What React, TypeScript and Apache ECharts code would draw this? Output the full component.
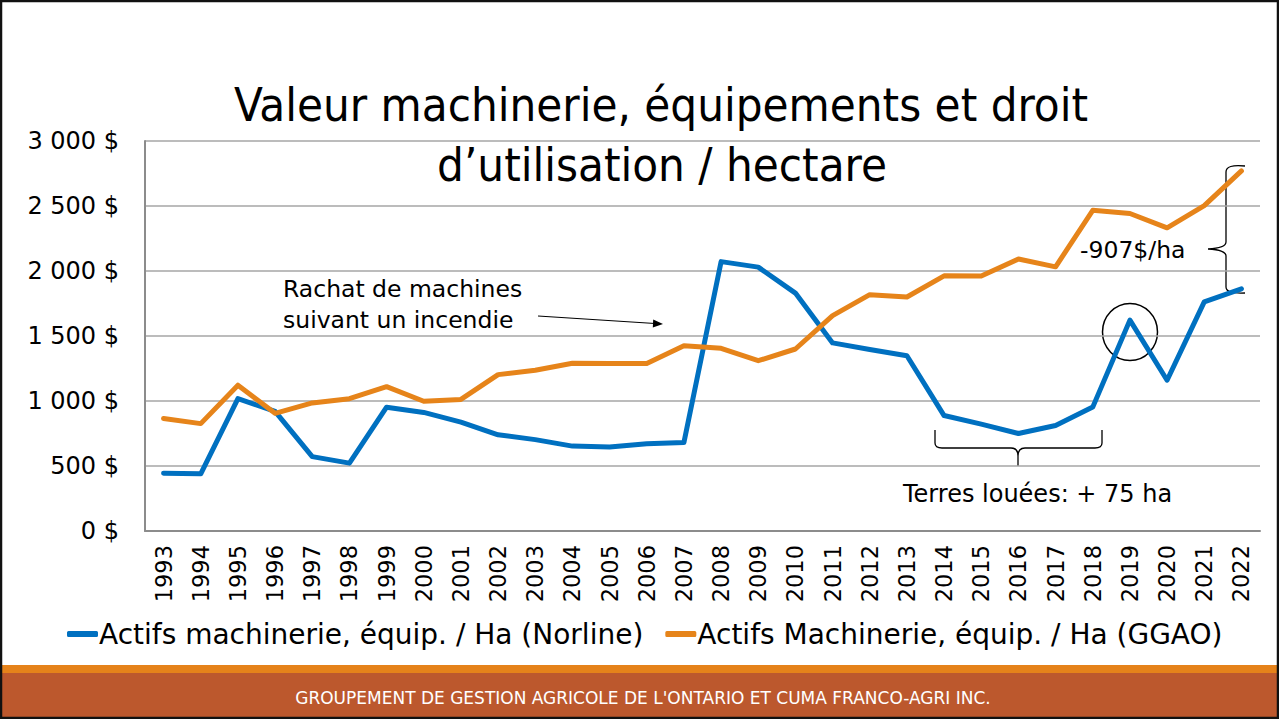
import React, { useEffect, useRef } from "react";
import * as echarts from "echarts";

const years = [
  "1993", "1994", "1995", "1996", "1997", "1998", "1999", "2000", "2001", "2002",
  "2003", "2004", "2005", "2006", "2007", "2008", "2009", "2010", "2011", "2012",
  "2013", "2014", "2015", "2016", "2017", "2018", "2019", "2020", "2021", "2022",
];

const norline = [
  445, 440, 1018, 920, 572, 522, 952, 912, 838, 740,
  703, 653, 646, 672, 680, 2072, 2030, 1830, 1447, 1396,
  1348, 888, 822, 750, 812, 953, 1622, 1160, 1762, 1863,
];

const ggao = [
  866, 826, 1122, 905, 985, 1018, 1110, 998, 1012, 1203,
  1236, 1290, 1289, 1288, 1425, 1405, 1310, 1400, 1657, 1818,
  1800, 1963, 1962, 2092, 2032, 2467, 2442, 2332, 2503, 2770,
];

const seriesNames = [
  "Actifs machinerie, équip. / Ha (Norline)",
  "Actifs Machinerie, équip. / Ha (GGAO)",
];

const titleLines = ["Valeur machinerie, équipements et droit", "d’utilisation / hectare"];
const footerText = "GROUPEMENT DE GESTION AGRICOLE DE L'ONTARIO ET CUMA FRANCO-AGRI INC.";
const noteFire = "Rachat de machines\nsuivant un incendie";
const noteGap = "-907$/ha";
const noteLand = "Terres louées: + 75 ha";

const FONT_C = '"DejaVu Sans Condensed", "DejaVu Sans", sans-serif';
const FONT = '"DejaVu Sans", sans-serif';
const BLUE = "#0070C0";
const ORANGE = "#E6841A";

function fmt(v: number) {
  if (v === 0) return "0 $";
  if (v >= 1000) return `${Math.floor(v / 1000)} ${String(v % 1000).padStart(3, "0")} $`;
  return `${v} $`;
}

echarts.graphic.registerShape(
  "braceV",
  echarts.graphic.extendPath(
    "M 1245 166 Q 1226 164 1226 172 L 1226 242 Q 1226 248 1208 249 Q 1226 250 1226 256 L 1226 287 Q 1226 294 1245 293",
    {}
  )
);
echarts.graphic.registerShape(
  "braceH",
  echarts.graphic.extendPath(
    "M 935 430 L 935 443 Q 935 448 942 448 L 1011 448 Q 1018 448 1018 456 L 1018 466 M 1018 456 Q 1018 448 1025 448 L 1095 448 Q 1102 448 1102 443 L 1102 430",
    {}
  )
);

export default function App() {
  const ref = useRef<HTMLDivElement>(null);
  useEffect(() => {
    if (!ref.current) return;
    const chart = echarts.init(ref.current, null, { renderer: "svg" });
    chart.setOption({
      animation: false,
      backgroundColor: "#ffffff",
      textStyle: { fontFamily: FONT },
      grid: { left: 145, right: 19, top: 141, bottom: 188, containLabel: false },
      legend: {
        data: seriesNames,
        left: 62,
        top: 615,
        icon: "roundRect",
        itemWidth: 31,
        itemHeight: 6,
        itemGap: 22,
        textStyle: { fontFamily: FONT, fontSize: 28, color: "#000", padding: [0, 0, 0, -4] },
      },
      xAxis: {
        type: "category",
        data: years,
        boundaryGap: true,
        axisLine: { lineStyle: { color: "#8C8C8C", width: 2 } },
        axisTick: { show: false },
        axisLabel: { rotate: 90, margin: 14, fontSize: 22.5, color: "#000", fontFamily: FONT, interval: 0 },
      },
      yAxis: {
        type: "value",
        min: 0,
        max: 3000,
        interval: 500,
        axisLine: { show: true, lineStyle: { color: "#8C8C8C", width: 2 } },
        axisTick: { show: false },
        splitLine: { lineStyle: { color: "#A6A6A6", width: 1.5 } },
        axisLabel: { formatter: fmt, margin: 26, fontSize: 24, color: "#000", fontFamily: FONT },
      },
      series: [
        {
          name: seriesNames[0],
          type: "line",
          data: norline,
          symbol: "none",
          color: BLUE,
          lineStyle: { width: 5, color: BLUE, cap: "round", join: "round" },
        },
        {
          name: seriesNames[1],
          type: "line",
          data: ggao,
          symbol: "none",
          color: ORANGE,
          lineStyle: { width: 5, color: ORANGE, cap: "round", join: "round" },
        },
      ],
      graphic: [
        {
          type: "text",
          x: 661,
          y: 104,
          style: { text: titleLines[0], fontSize: 47, fontFamily: FONT_C, fill: "#000", align: "center", verticalAlign: "middle" },
        },
        {
          type: "text",
          x: 662,
          y: 164,
          style: { text: titleLines[1], fontSize: 47, fontFamily: FONT_C, fill: "#000", align: "center", verticalAlign: "middle" },
        },
        {
          type: "text",
          x: 283,
          y: 273,
          style: { text: noteFire, fontSize: 23.5, lineHeight: 31, fontFamily: FONT, fill: "#000", align: "left", verticalAlign: "top" },
        },
        { type: "line", shape: { x1: 538, y1: 316, x2: 655, y2: 323.5 }, style: { stroke: "#000", lineWidth: 1.2 } },
        { type: "polygon", shape: { points: [[663, 324], [652.8, 327.4], [653.2, 319.6]] }, style: { fill: "#000" } },
        {
          type: "text",
          x: 1080,
          y: 250,
          style: { text: noteGap, fontSize: 23.5, fontFamily: FONT, fill: "#000", align: "left", verticalAlign: "middle" },
        },
        { type: "braceV", x: 0, y: 0, style: { fill: "none", stroke: "#000", lineWidth: 1.3 } },
        { type: "ellipse", shape: { cx: 1130, cy: 332, rx: 27.5, ry: 28.5 }, style: { fill: "none", stroke: "#000", lineWidth: 1.5 } },
        { type: "braceH", x: 0, y: 0, style: { fill: "none", stroke: "#000", lineWidth: 1.3 } },
        {
          type: "text",
          x: 903,
          y: 494,
          style: { text: noteLand, fontSize: 24, fontFamily: FONT, fill: "#000", align: "left", verticalAlign: "middle" },
        },
        { type: "rect", shape: { x: 0, y: 665, width: 1279, height: 8 }, style: { fill: "#E5821A" } },
        { type: "rect", shape: { x: 0, y: 673, width: 1279, height: 46 }, style: { fill: "#BC582D" } },
        {
          type: "text",
          x: 643,
          y: 698,
          style: { text: footerText, fontSize: 17, fontFamily: FONT, fill: "#fff", align: "center", verticalAlign: "middle" },
        },
        {
          type: "rect",
          z: 100,
          shape: { x: 1, y: 1, width: 1277, height: 717 },
          style: { fill: "none", stroke: "#111", lineWidth: 2.5 },
        },
      ],
    });
    return () => chart.dispose();
  }, []);
  return <div ref={ref} style={{ position: "fixed", left: 0, top: 0, width: 1279, height: 719 }} />;
}
